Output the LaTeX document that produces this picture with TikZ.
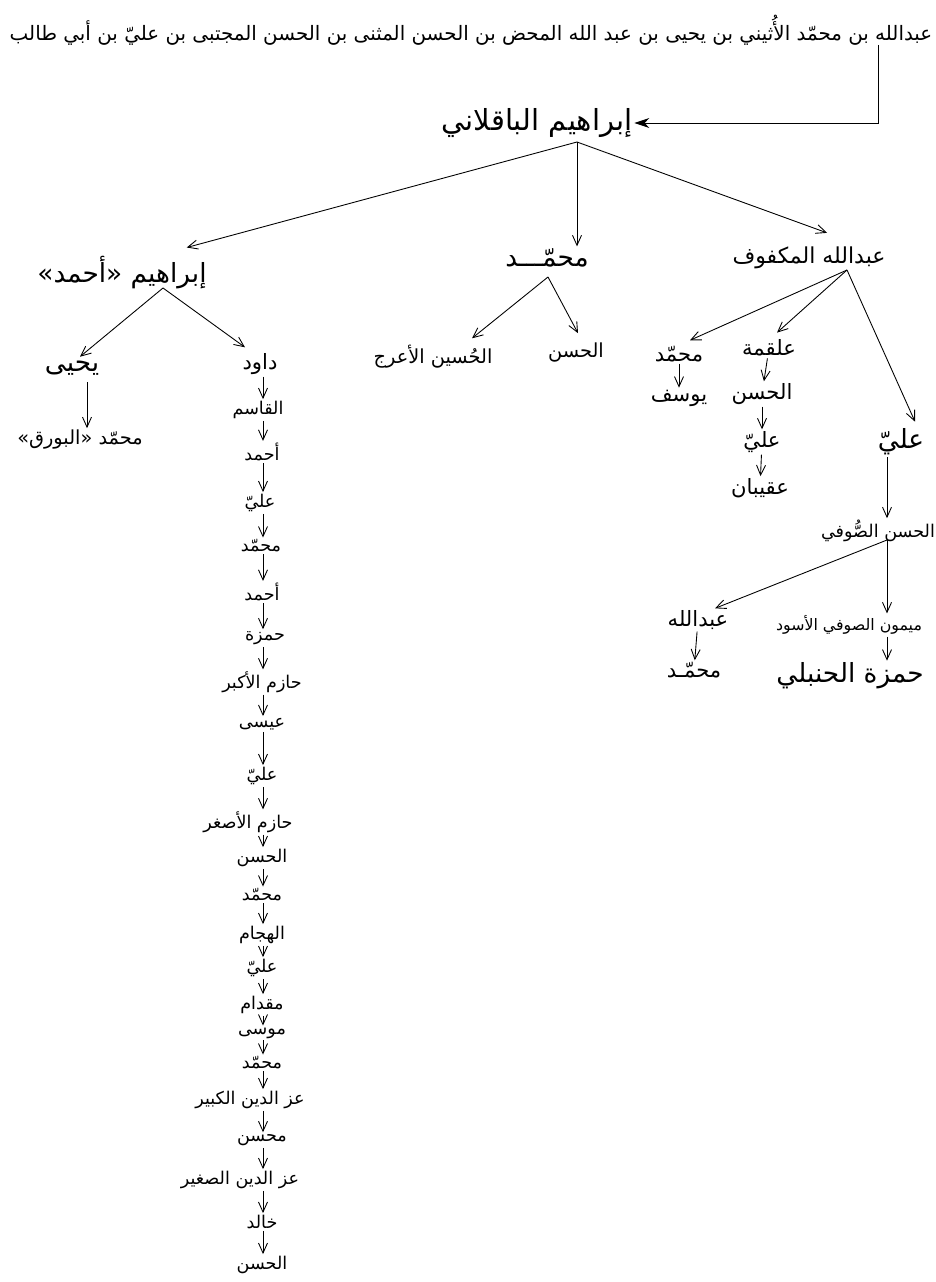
\documentclass[tikz,border=0pt]{standalone}
\usepackage{fontspec}
\newfontfamily\arabicfont[Script=Arabic]{DejaVu Sans}
\TeXXeTstate=1
\usetikzlibrary{arrows.meta, calc}

\tikzset{
  lbl/.style={inner sep=1pt, font=\arabicfont\fontsize{12}{14}\selectfont},
  lblbig/.style={lbl, font=\arabicfont\fontsize{15}{17}\selectfont},
  lblmid/.style={lbl, font=\arabicfont\fontsize{11}{13}\selectfont},
  lblsm/.style={lbl, font=\arabicfont\fontsize{10}{12}\selectfont},
  arr/.style={line width=0.5pt, ->},
  rootarr/.style={line width=0.5pt, -{Stealth[length=3mm, width=2mm]}}
}

\begin{document}
\begin{tikzpicture}[x=0.2mm, y=-0.2mm, >={Straight Barb[length=2mm, width=1.8mm]}]

% Canvas, in pixels of the scan
\useasboundingbox (0,0) rectangle (935,1282);
\fill[white] (0,0) rectangle (935,1282);

% Top line — the full lineage
\node[lbl, font=\arabicfont\fontsize{11.3}{13}\selectfont] (top) at (471,30)
  {\beginR عبدالله بن محمّد الأُثيني بن يحيى بن عبد الله المحض بن الحسن المثنى بن الحسن المجتبى بن عليّ بن أبي طالب\endR};

% Root and first generation
\node[lblbig, font=\arabicfont\fontsize{16.5}{19}\selectfont] (root) at (537,123) {\beginR إبراهيم الباقلاني\endR};
\node[lblbig] (ibr) at (122,273) {\beginR إبراهيم «أحمد»\endR};
\node[lblbig] (muh1) at (547,258) {\beginR محمّـــد\endR};
\node[lbl, font=\arabicfont\fontsize{12.5}{15}\selectfont] (abd) at (809,258) {\beginR عبدالله المكفوف\endR};

% Junctions under the parents
\coordinate (tk) at (878,45);
\coordinate (root-j) at (577,142);
\coordinate (ibr-j) at (163,288);
\coordinate (muh1-j) at (548,277);
\coordinate (abd-j) at (847,270);
\coordinate (sufi-j) at (887,540);
\coordinate (yah-j) at (87,382);
\coordinate (spine) at (263,380);

% Left branch
\node[lblbig] (yah) at (72,368) {\beginR يحيى\endR};
\node[lblmid] (bawraq) at (80,440) {\beginR محمّد «البورق»\endR};
\node[lbl] (dawud) at (260,364) {\beginR داود\endR};

% Chain under Dawud
\node[lblsm] (qasim) at (258,410) {\beginR القاسم\endR};
\node[lblsm] (ahm1) at (262,452) {\beginR أحمد\endR};
\node[lblsm] (ali3) at (260,503) {\beginR عليّ\endR};
\node[lblsm] (muh4) at (261,546) {\beginR محمّد\endR};
\node[lblsm] (ahm2) at (262,592) {\beginR أحمد\endR};
\node[lblsm] (hamza) at (265,638) {\beginR حمزة\endR};
\node[lblsm] (hazimA) at (262,682) {\beginR حازم الأكبر\endR};
\node[lblsm] (isa) at (262,724) {\beginR عيسى\endR};
\node[lblsm] (ali4) at (262,776) {\beginR عليّ\endR};
\node[lblsm] (hazimS) at (248,822) {\beginR حازم الأصغر\endR};
\node[lblsm] (hasan3) at (262,858) {\beginR الحسن\endR};
\node[lblsm] (muh5) at (262,895) {\beginR محمّد\endR};
\node[lblsm] (hajj) at (262,935) {\beginR الهجام\endR};
\node[lblsm] (ali5) at (262,968) {\beginR عليّ\endR};
\node[lblsm] (miqd) at (262,1005) {\beginR مقدام\endR};
\node[lblsm] (musa) at (262,1033) {\beginR موسى\endR};
\node[lblsm] (muh6) at (262,1063) {\beginR محمّد\endR};
\node[lblsm] (izzK) at (250,1100) {\beginR عز الدين الكبير\endR};
\node[lblsm] (muhs) at (262,1140) {\beginR محسن\endR};
\node[lblsm] (izzS) at (240,1180) {\beginR عز الدين الصغير\endR};
\node[lblsm] (khal) at (262,1222) {\beginR خالد\endR};
\node[lblsm] (hasan4) at (262,1265) {\beginR الحسن\endR};

% Middle branch
\node[lblmid] (husayn) at (433,357) {\beginR الحُسين الأعرج\endR};
\node[lblmid] (hasan1) at (576,353) {\beginR الحسن\endR};

% Right branch
\node[lbl] (muh2) at (679,354) {\beginR محمّد\endR};
\node[lbl] (yusuf) at (679,398) {\beginR يوسف\endR};
\node[lbl] (alq) at (769,348) {\beginR علقمة\endR};
\node[lbl] (hasan2) at (762,394) {\beginR الحسن\endR};
\node[lbl] (ali2) at (762,442) {\beginR عليّ\endR};
\node[lbl] (aqib) at (760,488) {\beginR عقيبان\endR};
\node[lblbig] (ali1) at (901,442) {\beginR عليّ\endR};
\node[lblsm] (sufi) at (878,531) {\beginR الحسن الصُّوفي\endR};
\node[lbl] (abd2) at (698,620) {\beginR عبدالله\endR};
\node[lbl, font=\arabicfont\fontsize{9}{11}\selectfont] (maym) at (849,625) {\beginR ميمون الصوفي الأسود\endR};
\node[lbl] (muh3) at (694,670) {\beginR محمّـد\endR};
\node[lblbig] (hamz) at (850,676) {\beginR حمزة الحنبلي\endR};

% Connectors
\draw[rootarr] (tk) |- (root.east);
\draw[arr] (root-j) -- ($(ibr.north east)+(-22,-7)$);
\draw[arr] (root-j) -- (root-j |- muh1.north);
\draw[arr] (root-j) -- ($(abd.north)+(18,-12)$);

\draw[arr] (ibr-j) -- ($(yah.north)+(8,-2)$);
\draw[arr] (ibr-j) -- ($(dawud.north)+(-15,-4)$);
\draw[arr] (yah-j) -- (yah-j |- bawraq.north);

\draw[arr] (muh1-j) -- ($(husayn.north)+(39,-5)$);
\draw[arr] (muh1-j) -- ($(hasan1.north)+(2,-8)$);

\draw[arr] (abd-j) -- ($(muh2.north)+(11,-4)$);
\draw[arr] (abd-j) -- ($(alq.north)+(8,-5)$);
\draw[arr] (abd-j) -- ($(ali1.north)+(14,-5)$);
\draw[arr] (muh2) -- (yusuf);
\draw[arr] (alq) -- (hasan2);
\draw[arr] (hasan2) -- (ali2);
\draw[arr] (ali2) -- (aqib);
\draw[arr] (ali1.south -| sufi-j) -- (sufi.north -| sufi-j);
\draw[arr] (sufi-j) -- ($(abd2.north)+(17,0)$);
\draw[arr] (sufi-j) -- (sufi-j |- maym.north);
\draw[arr] (abd2) -- (muh3);
\draw[arr] (maym.south -| sufi-j) -- (hamz.north -| sufi-j);

% Dawud's line, straight down
\draw[arr] (dawud.south -| spine) -- (qasim.north -| spine);
\draw[arr] (qasim.south -| spine) -- (ahm1.north -| spine);
\draw[arr] (ahm1.south -| spine) -- (ali3.north -| spine);
\draw[arr] (ali3.south -| spine) -- (muh4.north -| spine);
\draw[arr] (muh4.south -| spine) -- (ahm2.north -| spine);
\draw[arr] (ahm2.south -| spine) -- (hamza.north -| spine);
\draw[arr] (hamza.south -| spine) -- (hazimA.north -| spine);
\draw[arr] (hazimA.south -| spine) -- (isa.north -| spine);
\draw[arr] (isa.south -| spine) -- (ali4.north -| spine);
\draw[arr] (ali4.south -| spine) -- (hazimS.north -| spine);
\draw[arr] (hazimS.south -| spine) -- (hasan3.north -| spine);
\draw[arr] (hasan3.south -| spine) -- (muh5.north -| spine);
\draw[arr] (muh5.south -| spine) -- (hajj.north -| spine);
\draw[arr] (hajj.south -| spine) -- (ali5.north -| spine);
\draw[arr] (ali5.south -| spine) -- (miqd.north -| spine);
\draw[arr] (miqd.south -| spine) -- (musa.north -| spine);
\draw[arr] (musa.south -| spine) -- (muh6.north -| spine);
\draw[arr] (muh6.south -| spine) -- (izzK.north -| spine);
\draw[arr] (izzK.south -| spine) -- (muhs.north -| spine);
\draw[arr] (muhs.south -| spine) -- (izzS.north -| spine);
\draw[arr] (izzS.south -| spine) -- (khal.north -| spine);
\draw[arr] (khal.south -| spine) -- (hasan4.north -| spine);

\end{tikzpicture}
\end{document}
